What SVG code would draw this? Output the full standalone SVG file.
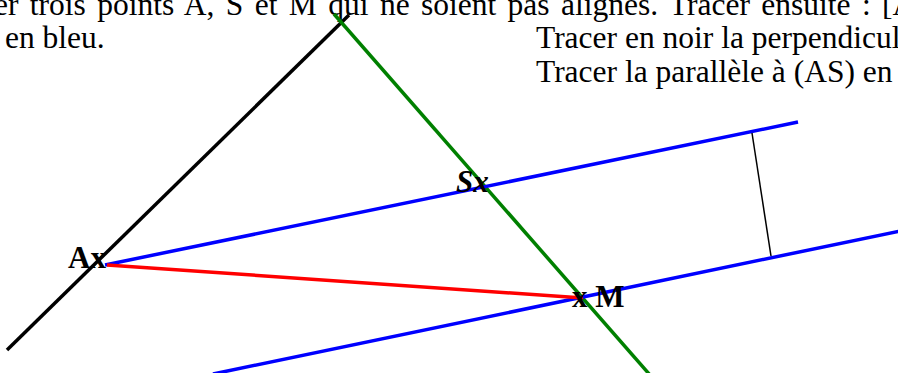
<svg xmlns="http://www.w3.org/2000/svg" width="898" height="373" viewBox="0 0 898 373">
<style>
.t{font-family:"Liberation Serif","Times New Roman",serif;font-size:31.5px;fill:#000}
.lb{font-family:"Liberation Serif","Times New Roman",serif;font-size:31px;font-weight:bold;fill:#000}
.ln{fill:none;stroke-width:3.5;stroke-linecap:butt}
</style>
<rect width="898" height="373" fill="#fff"/>
<g id="texte">
<text class="t" x="-6" y="15" word-spacing="3.5">er trois points A, S et M qui ne soient pas alignés. Tracer ensuite : [A</text>
<text class="t" x="5" y="48">en bleu.</text>
<text class="t" x="536" y="48">Tracer en noir la perpendicul</text>
<text class="t" x="536" y="82">Tracer la parallèle à (AS) en</text>
</g>
<g id="connecteurs">
<line class="ln" x1="7" y1="350" x2="349" y2="15" stroke="#000"/>
<line class="ln" x1="334" y1="14" x2="650" y2="375" stroke="#008000"/>
<line class="ln" x1="105" y1="265" x2="798" y2="122" stroke="#0000ff"/>
<line class="ln" x1="213" y1="374" x2="900" y2="231" stroke="#0000ff"/>
<line class="ln" x1="107" y1="265" x2="583" y2="298" stroke="#ff0000"/>
<line x1="752" y1="133" x2="771" y2="256" stroke="#000" stroke-width="1.5"/>
</g>
<g id="A"><text class="lb" x="68" y="268">Ax</text></g>
<g id="S"><text class="lb" x="456" y="192" font-style="italic">Sx</text></g>
<g id="M"><text class="lb" x="572" y="307" font-size="32">x M</text></g>
</svg>
